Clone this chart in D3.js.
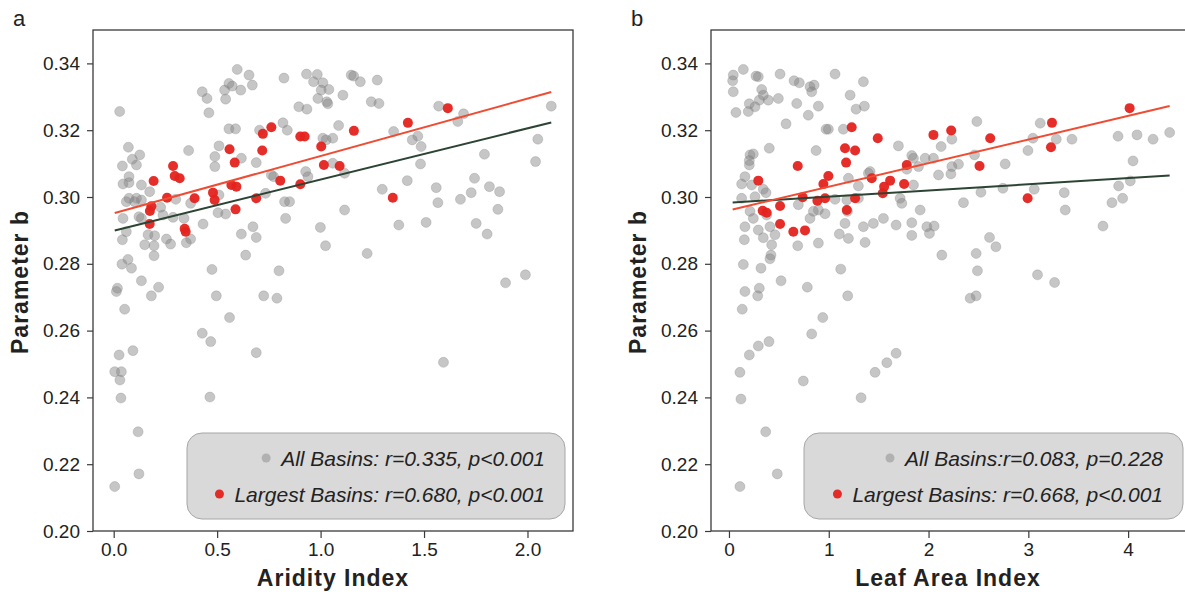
<!DOCTYPE html>
<html><head><meta charset="utf-8">
<script src="https://cdn.jsdelivr.net/npm/d3@7"></script>
<style>body{margin:0;background:#fff} svg{display:block;font-family:"Liberation Sans",Arial,Helvetica,sans-serif}</style>
</head><body><svg id="c" width="1185" height="592"></svg>
<script>
// ---------- DATA ----------
const aridityAll = [
[0.029,0.3256],[0.597,0.3382],[0.654,0.3365],[0.67,0.3335],[0.823,0.3356],[0.932,0.3368],[0.984,0.3367],[0.966,0.3345],[1.011,0.3342],[0.428,0.3315],[0.451,0.3295],[0.46,0.3252],[0.536,0.332],[0.557,0.334],[0.573,0.3332],[0.614,0.332],[0.541,0.3293],[1.003,0.332],[0.987,0.3295],[1.03,0.3285],[0.895,0.327],[0.934,0.3263],[0.557,0.3204],[0.589,0.3204],[0.818,0.3222],[0.839,0.32],[0.705,0.32],[1.011,0.3176],[1.027,0.3171],[0.509,0.3153],[0.362,0.3139],[0.071,0.3149],[0.126,0.3126],[0.09,0.3113],[0.042,0.3093],[0.11,0.3096],[0.489,0.3121],[0.489,0.3091],[0.617,0.3116],[0.689,0.3103],[0.074,0.3061],[0.045,0.3039],[0.074,0.3043],[0.134,0.3036],[0.174,0.3016],[0.074,0.2996],[0.11,0.2996],[0.134,0.2991],[0.3,0.2993],[0.762,0.3066],[0.773,0.3061],[0.928,0.3076],[0.939,0.3061],[0.826,0.2986],[0.85,0.2986],[0.734,0.3011],[0.372,0.2981],[0.509,0.3006],
[1.148,0.3365],[1.16,0.3362],[1.192,0.3345],[1.274,0.335],[1.04,0.3322],[1.108,0.3305],[1.035,0.3279],[1.245,0.3285],[1.282,0.328],[1.571,0.3272],[1.691,0.3249],[1.663,0.3226],[2.115,0.3272],[1.087,0.3214],[1.353,0.3196],[1.059,0.3176],[1.443,0.3171],[1.47,0.3182],[1.486,0.3151],[2.05,0.3173],[1.792,0.3128],[2.039,0.3106],[1.059,0.3101],[1.116,0.3071],[1.483,0.3099],[1.298,0.3023],[1.419,0.3049],[1.559,0.3028],[1.744,0.3056],[1.816,0.3031],[1.865,0.3016],[1.728,0.3013],[1.676,0.2993],[1.567,0.2983],[1.116,0.2961],[1.857,0.2963],
[0.061,0.2986],[0.101,0.2986],[0.045,0.2936],[0.122,0.2941],[0.134,0.2936],[0.227,0.2969],[0.238,0.2946],[0.061,0.2896],[0.042,0.2872],[0.166,0.2887],[0.198,0.2884],[0.15,0.2857],[0.195,0.2854],[0.195,0.2824],[0.255,0.2874],[0.275,0.2859],[0.351,0.2863],[0.372,0.2874],[0.287,0.2939],[0.34,0.2936],[0.432,0.2919],[0.504,0.2953],[0.541,0.2949],[0.617,0.2889],[0.673,0.2911],[0.689,0.2879],[0.638,0.2826],[0.831,0.2936],[0.999,0.2909],[1.024,0.2854],[0.069,0.2813],[0.04,0.2799],[0.086,0.2787],[0.475,0.2783],[0.799,0.2779],[0.134,0.2749],[0.018,0.2727],[0.013,0.2717],[0.217,0.273],[0.182,0.2704],[0.496,0.2704],[0.725,0.2704],[0.789,0.2697],[0.053,0.2664],[0.56,0.2639],[0.428,0.2592],[0.469,0.2567],[0.026,0.2527],[0.093,0.254],[0.689,0.2534],[0.005,0.2477],[0.037,0.2477],[0.03,0.2452],[0.035,0.2398],[0.118,0.2297],[0.122,0.2171],[0.005,0.2133],[0.465,0.2401],
[1.225,0.2831],[1.378,0.2916],[1.51,0.2924],[1.752,0.2921],[1.805,0.2889],[1.894,0.2743],[1.99,0.2767],[1.594,0.2505]
];
const aridityLargest = [
[0.762,0.3209],[0.721,0.3189],[0.902,0.3181],[0.923,0.3181],[0.56,0.3143],[0.718,0.3139],[1.003,0.3151],[0.585,0.3103],[1.016,0.3096],[0.287,0.3093],[0.295,0.3063],[0.319,0.3056],[0.193,0.3048],[0.569,0.3036],[0.593,0.3031],[0.805,0.3049],[0.902,0.3038],[0.258,0.2998],[0.48,0.3013],[0.488,0.2991],[0.391,0.2996],[0.689,0.2996],[0.182,0.2972],[0.175,0.2958],[0.589,0.2963],[1.615,0.3266],[1.422,0.3222],[1.161,0.3198],[1.092,0.3093],[1.349,0.2998],[0.174,0.2919],[0.348,0.2896],[0.343,0.2905]
];
const laiAll = [
[0.144,0.3382],[0.043,0.3365],[0.037,0.3348],[0.271,0.3362],[0.294,0.336],[0.512,0.3368],[0.652,0.3348],[0.705,0.3342],[0.812,0.333],[0.853,0.3335],[0.829,0.3315],[1.063,0.3368],[1.347,0.3345],[0.043,0.3315],[0.328,0.3322],[0.344,0.3305],[0.304,0.329],[0.394,0.329],[0.204,0.3279],[0.261,0.327],[0.495,0.3295],[0.07,0.3253],[0.194,0.3256],[0.679,0.328],[0.896,0.3272],[0.795,0.3245],[1.214,0.3305],[1.274,0.3263],[1.357,0.3272],[0.572,0.3219],[0.996,0.3203],[0.973,0.3203],[1.146,0.3203],[0.404,0.3146],[0.873,0.3139],[1.698,0.3153],[0.211,0.3126],[0.244,0.3129],[0.204,0.3096],[0.204,0.3109],[1.832,0.3124],[1.966,0.3116],[0.16,0.3061],[0.127,0.3039],[0.228,0.3036],[0.344,0.3023],[0.371,0.3013],[0.127,0.2996],[0.261,0.3001],[1.197,0.3056],[1.297,0.3033],[1.397,0.3071],[1.782,0.3083],[1.849,0.3116],[1.899,0.3091],[1.849,0.3036],[1.715,0.2996],[1.732,0.2981],[1.916,0.2961],[2.1,0.3066],[0.695,0.2977],[0.846,0.2957],[0.896,0.2961],[0.963,0.295],[0.812,0.2936],[1.063,0.2993],[1.181,0.2991],[1.187,0.2957],[1.297,0.2996],[1.414,0.3076],[1.548,0.2936],[1.675,0.2916],[1.832,0.2923],[1.447,0.2921],[1.347,0.2911],[1.163,0.2921],[0.244,0.2936],[0.211,0.2957],[0.16,0.2911],[0.378,0.2946],[0.411,0.2911],[1.983,0.2911],
[2.484,0.3226],[2.126,0.3151],[2.234,0.3173],[2.049,0.3116],[2.3,0.3098],[2.234,0.3091],[2.224,0.3069],[2.461,0.3126],[2.768,0.3099],[3.119,0.3221],[3.046,0.3176],[3.28,0.3173],[3.437,0.3173],[2.996,0.3139],[3.899,0.3182],[4.089,0.3186],[4.25,0.3173],[4.416,0.3193],[4.049,0.3108],[2.525,0.3014],[2.745,0.3026],[2.35,0.2983],[2.056,0.2913],[3.059,0.3023],[3.36,0.3013],[3.37,0.2961],[3.748,0.2913],[3.838,0.2983],[3.945,0.2996],[3.905,0.3033],[4.022,0.3048],
[0.294,0.2901],[0.344,0.2878],[0.154,0.2872],[0.461,0.2887],[0.428,0.2857],[0.421,0.2826],[0.411,0.2815],[0.689,0.2854],[0.896,0.2862],[1.106,0.2889],[1.197,0.2876],[1.364,0.2864],[1.832,0.2885],[2.009,0.2891],[0.144,0.2798],[0.321,0.2787],[1.12,0.2784],[0.522,0.2749],[0.16,0.2717],[0.304,0.2727],[0.288,0.2704],[0.785,0.273],[1.19,0.2704],[0.133,0.2664],[0.94,0.2639],[0.829,0.259],[0.401,0.2567],[0.294,0.2554],[0.204,0.2527],[1.675,0.2532],[1.582,0.2504],[1.464,0.2475],[0.11,0.2475],[0.745,0.2449],[0.12,0.2395],[1.324,0.2399],[0.368,0.2297],[0.484,0.2171],[0.11,0.2133],
[2.611,0.2879],[2.675,0.2851],[2.477,0.2831],[2.133,0.2826],[2.49,0.2779],[3.092,0.2767],[3.263,0.2744],[2.417,0.2697],[2.477,0.2704]
];
const laiLargest = [
[1.23,0.3209],[1.491,0.3176],[2.049,0.3186],[1.163,0.3146],[1.264,0.3139],[1.174,0.3103],[0.689,0.3093],[0.996,0.3063],[0.946,0.3039],[0.294,0.3049],[1.431,0.3056],[1.615,0.3049],[1.555,0.3031],[1.541,0.3011],[1.782,0.3096],[1.755,0.3039],[0.739,0.2999],[0.886,0.2989],[0.963,0.2996],[1.264,0.2996],[0.338,0.2959],[0.378,0.2953],[0.512,0.2973],[1.181,0.2961],[0.512,0.2919],[0.645,0.2896],[0.762,0.29],[4.015,0.3266],[2.227,0.3199],[2.618,0.3176],[3.237,0.3222],[3.227,0.3149],[2.511,0.3093],[2.993,0.2996]
];
// regression fits: [intercept, slope]
const aridityFitAll = [0.2899, 0.01533];
const aridityFitLargest = [0.2951, 0.01718];
const laiFitAll = [0.2983, 0.00184];
const laiFitLargest = [0.2960, 0.00707];
const yTicks = [0.20,0.22,0.24,0.26,0.28,0.30,0.32,0.34];
const aridityTicks = [0.0,0.5,1.0,1.5,2.0];
const laiTicks = [0,1,2,3,4];
const aridityLegend = ["All Basins: r=0.335, p<0.001","Largest Basins: r=0.680, p<0.001"];
const laiLegend = ["All Basins:r=0.083, p=0.228","Largest Basins: r=0.668, p<0.001"];

// ---------- DRAW ----------
const svg = d3.select("#c");
const GRAY = "#808080", RED = "#e4231d", REDLINE = "#ef4c33", GREENLINE = "#2c4433", INK = "#222";

function panel(o){
  const x = d3.scaleLinear().domain(o.xDomain).range([o.left, o.right]);
  const y = d3.scaleLinear().domain([0.20,0.35]).range([531,30]);
  const g = svg.append("g");
  const clipId = "clip"+o.letter;
  svg.append("clipPath").attr("id",clipId).append("rect")
    .attr("x",o.left).attr("y",30).attr("width",o.right-o.left).attr("height",501);
  const plot = g.append("g").attr("clip-path","url(#"+clipId+")");
  plot.selectAll("circle.all").data(o.all).join("circle").attr("class","all")
    .attr("cx",d=>x(d[0])).attr("cy",d=>y(d[1])).attr("r",5)
    .attr("fill",GRAY).attr("fill-opacity",0.45)
    .attr("stroke",GRAY).attr("stroke-opacity",0.35).attr("stroke-width",0.8);
  plot.selectAll("circle.big").data(o.big).join("circle").attr("class","big")
    .attr("cx",d=>x(d[0])).attr("cy",d=>y(d[1])).attr("r",5)
    .attr("fill",RED).attr("fill-opacity",0.95);
  const ext = d3.extent(o.all.concat(o.big), d=>d[0]);
  const fits = [[o.fitAll,GREENLINE],[o.fitBig,REDLINE]];
  fits.forEach(([f,c])=>{
    plot.append("line")
      .attr("x1",x(ext[0])).attr("y1",y(f[0]+f[1]*ext[0]))
      .attr("x2",x(ext[1])).attr("y2",y(f[0]+f[1]*ext[1]))
      .attr("stroke",c).attr("stroke-width",2);
  });
  // frame
  g.append("rect").attr("x",o.left).attr("y",30).attr("width",o.right-o.left).attr("height",501)
    .attr("fill","none").attr("stroke","#3a3a3a").attr("stroke-width",1.3);
  // axes
  const ya = g.append("g").attr("transform",`translate(${o.left},0)`)
    .call(d3.axisLeft(y).tickValues(yTicks).tickFormat(d3.format(".2f")).tickSize(6).tickPadding(7));
  const xa = g.append("g").attr("transform","translate(0,531)")
    .call(d3.axisBottom(x).tickValues(o.xTicks).tickFormat(d3.format(o.xFmt)).tickSize(7).tickPadding(5));
  [ya,xa].forEach(a=>{
    a.select(".domain").remove();
    a.selectAll("line").attr("stroke","#3a3a3a").attr("stroke-width",1.2);
    a.selectAll("text").attr("font-size",19).attr("fill",INK).attr("font-family",null);
  });
  // titles
  g.append("text").attr("x",o.xTitleX).attr("y",586)
    .attr("text-anchor","middle").attr("font-size",23).attr("font-weight","bold")
    .attr("letter-spacing",1).attr("fill",INK).text(o.xTitle);
  g.append("text").attr("transform",`translate(${o.left-73},282) rotate(-90)`)
    .attr("text-anchor","middle").attr("dominant-baseline","central")
    .attr("font-size",23).attr("font-weight","bold").attr("letter-spacing",1)
    .attr("fill",INK).text("Parameter b");
  g.append("text").attr("x",o.left-80).attr("y",26).attr("font-size",22).attr("fill",INK).text(o.letter);
  // legend
  const lg = g.append("g");
  lg.append("rect").attr("x",o.legX).attr("y",433).attr("width",o.legW).attr("height",86).attr("rx",15)
    .attr("fill","#d9d9d9").attr("stroke","#a6a6a6").attr("stroke-width",1);
  const textEnd = o.legX + o.legW - 20;
  const rows = [[o.legend[0],466,"all"],[o.legend[1],502,"big"]];
  rows.forEach(([t,base,kind])=>{
    const tx = lg.append("text").attr("x",textEnd).attr("y",base).attr("text-anchor","end")
      .attr("font-size",21).attr("font-style","italic").attr("fill",INK).text(t);
    const w = tx.node().getComputedTextLength();
    const c = lg.append("circle").attr("cx",textEnd-w-15).attr("cy",base-8).attr("r",4.5);
    if(kind==="all") c.attr("fill",GRAY).attr("fill-opacity",0.45);
    else c.attr("fill",RED).attr("fill-opacity",0.95);
  });
}

panel({letter:"a", left:93, right:573, xDomain:[-0.10,2.22], all:aridityAll, big:aridityLargest,
  fitAll:aridityFitAll, fitBig:aridityFitLargest, xTicks:aridityTicks, xFmt:".1f",
  xTitle:"Aridity Index", xTitleX:333, legX:187, legW:378, legend:aridityLegend});
panel({letter:"b", left:711, right:1190, xDomain:[-0.18,4.62], all:laiAll, big:laiLargest,
  fitAll:laiFitAll, fitBig:laiFitLargest, xTicks:laiTicks, xFmt:"d",
  xTitle:"Leaf Area Index", xTitleX:948, legX:804, legW:379, legend:laiLegend});
</script></body></html>
